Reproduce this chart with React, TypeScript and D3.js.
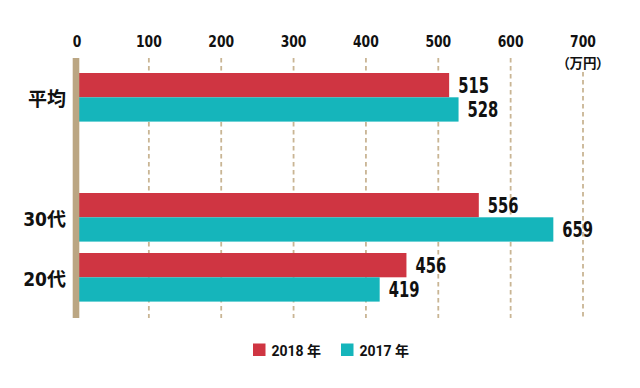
import * as d3 from "d3";

const categories = ["平均", "30代", "20代"];
const series2018 = [515, 556, 456];
const series2017 = [528, 659, 419];
const seriesNames = ["2018 年", "2017 年"];
const tickValues = [0, 100, 200, 300, 400, 500, 600, 700];
const unitLabel = "（万円）";

const W = 640;
const H = 388;
const red = "#cf3542";
const teal = "#15b5bb";
const tan = "#bba683";
const numFont = "'DejaVu Sans Condensed', 'Noto Sans', sans-serif";
const jpFont = "'Noto Sans CJK JP', sans-serif";

// text squeezed horizontally to imitate a condensed face
const Cond = ({ x, y, sx, size, anchor, children }: any) => (
  <text
    transform={`translate(${x},${y}) scale(${sx},1)`}
    textAnchor={anchor || "start"}
    fontFamily={numFont}
    fontWeight="bold"
    fontSize={size}
    fill="#111"
  >
    {children}
  </text>
);

const App = () => {
  const x = d3.scaleLinear().domain([0, 700]).range([76.5, 583]);
  // blank slot between 平均 and the age groups
  const y = d3
    .scaleBand<string>()
    .domain([categories[0], "_gap", categories[1], categories[2]])
    .range([73, 301.6])
    .paddingInner(0.19)
    .paddingOuter(0);
  const inner = d3.scaleBand<string>().domain(["2018", "2017"]).range([0, y.bandwidth()]);
  const colors = d3.scaleOrdinal<string, string>().domain(["2018", "2017"]).range([red, teal]);

  const rows = categories.map((c, i) => ({ cat: c, v18: series2018[i], v17: series2017[i] }));
  const gridTop = 58;
  const gridBottom = 318;

  return (
    <svg
      width={W}
      height={H}
      style={{ position: "absolute", left: 0, top: 0, background: "#fff" }}
    >
      {/* grid */}
      {tickValues.slice(1).map((t) => (
        <line
          key={"g" + t}
          x1={x(t)}
          x2={x(t)}
          y1={t === 700 ? 72 : gridTop}
          y2={gridBottom}
          stroke="#c9b594"
          strokeWidth={1.8}
          strokeDasharray="4.5 3.5"
        />
      ))}
      {/* tick labels */}
      {tickValues.map((t) => (
        <Cond key={"t" + t} x={x(t) + (t === 0 ? 0.5 : 0)} y={47} sx={0.86} size={16} anchor="middle">
          {t}
        </Cond>
      ))}
      <text
        x={x(700)}
        y={67.5}
        textAnchor="middle"
        fontFamily={jpFont}
        fontWeight="bold"
        fontSize={13.5}
        fill="#111"
        style={{ fontFeatureSettings: '"palt"' }}
      >
        {unitLabel}
      </text>

      {/* bars */}
      {rows.map((r) => {
        const y0 = y(r.cat)!;
        return (
          <g key={r.cat}>
            {[
              { k: "2018", v: r.v18 },
              { k: "2017", v: r.v17 },
            ].map((d) => (
              <g key={d.k}>
                <rect
                  x={x(0)}
                  y={y0 + inner(d.k)!}
                  width={x(d.v) - x(0)}
                  height={inner.bandwidth()}
                  fill={colors(d.k)}
                />
                <Cond x={x(d.v) + 9} y={y0 + inner(d.k)! + inner.bandwidth() / 2 + 7.5} sx={0.8} size={20.5}>
                  {d.v}
                </Cond>
              </g>
            ))}
            <text
              x={66}
              y={y0 + y.bandwidth() / 2 + 8.5}
              textAnchor="end"
              fontFamily={`'DejaVu Sans Condensed', ${jpFont}`}
              fontWeight="bold"
              fontSize={19}
              fill="#111"
            >
              {r.cat}
            </text>
          </g>
        );
      })}

      {/* axis bar */}
      <rect x={x(0) - 3.8} y={gridTop} width={6.6} height={gridBottom - gridTop} fill={tan} />

      {/* legend */}
      {seriesNames.map((name, i) => {
        const lx = 253 + i * 88;
        return (
          <g key={name}>
            <rect x={lx} y={343.5} width={12.5} height={12.5} fill={i === 0 ? red : teal} />
            <text
              x={lx + 18.5}
              y={355.5}
              fontFamily={`Roboto, ${jpFont}`}
              fontWeight="bold"
              fontSize={14}
              fill="#111"
            >
              {name}
            </text>
          </g>
        );
      })}
    </svg>
  );
};

export default App;
